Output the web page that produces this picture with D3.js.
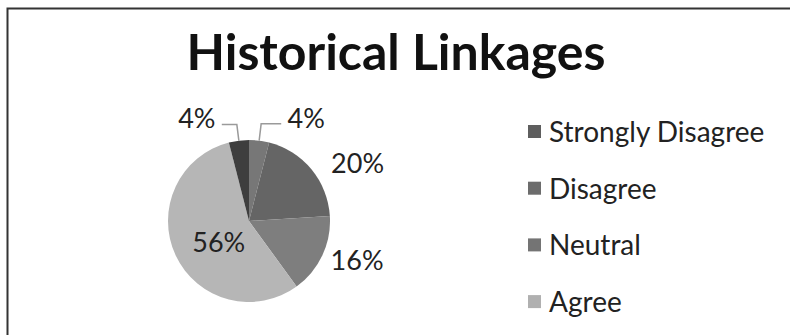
<!DOCTYPE html>
<html>
<head>
<meta charset="utf-8">
<script src="https://cdn.jsdelivr.net/npm/d3@7"></script>
<style>
  html, body { margin: 0; padding: 0; background: #fff; }
  svg { display: block; }
  text { font-family: Lato, "Open Sans", sans-serif; }
</style>
</head>
<body>
<svg id="chart" width="790" height="335"></svg>
<script>
// Survey responses for "Historical Linkages"
const categories = ["Strongly Disagree", "Disagree", "Neutral", "Agree", "Strongly Agree"];
const shares = [4, 20, 16, 56, 4];
const sliceColors = ["#777777", "#656565", "#7e7e7e", "#b6b6b6", "#3e3e3e"];
const legendColors = ["#5e5e5e", "#6c6c6c", "#747474", "#b0b0b0", "#3e3e3e"];
const title = "Historical Linkages";

// Label placement in polar terms around the pie centre (degrees clockwise from 12 o'clock, radius in px)
const labelPolar = [
  { angle: 29, radius: 118 },
  { angle: 62, radius: 123 },
  { angle: 110, radius: 115 },
  { angle: 235, radius: 37 },
  { angle: -27, radius: 115 }
];

const svg = d3.select("#chart");
const W = 790, H = 335;

// frame (top and left edges visible)
svg.append("path")
  .attr("d", `M7.5,${H} L7.5,8.5 L${W},8.5`)
  .attr("fill", "none")
  .attr("stroke", "#333")
  .attr("stroke-width", 2);

svg.append("text")
  .attr("x", 396)
  .attr("y", 70)
  .attr("text-anchor", "middle")
  .attr("font-size", 50)
  .attr("font-weight", 700)
  .attr("fill", "#111")
  .text(title);

const cx = 249, cy = 221, r = 81;
const g = svg.append("g").attr("transform", `translate(${cx},${cy})`);

const pie = d3.pie().sort(null).value(d => d);
const arcs = pie(shares);
const arc = d3.arc().innerRadius(0).outerRadius(r);

g.selectAll("path.slice")
  .data(arcs)
  .join("path")
  .attr("class", "slice")
  .attr("d", arc)
  .attr("fill", (d, i) => sliceColors[i]);

const toXY = (deg, rad) => {
  const a = deg * Math.PI / 180;
  return [Math.sin(a) * rad, -Math.cos(a) * rad];
};

// leader lines for the two thin slices
[0, 4].forEach(i => {
  const a = arcs[i];
  const mid = (a.startAngle + a.endAngle) / 2;
  const [ex, ey] = [Math.sin(mid) * r, -Math.cos(mid) * r];
  const [lx, ly] = toXY(labelPolar[i].angle, labelPolar[i].radius);
  const side = lx > 0 ? -1 : 1;
  const endX = lx + side * 25;
  const yLine = ly + 6;
  const kneeX = ex + (side > 0 ? -2 : 2);
  g.append("path")
    .attr("d", `M${endX},${yLine} L${kneeX},${yLine} L${ex},${ey}`)
    .attr("fill", "none")
    .attr("stroke", "#9a9a9a")
    .attr("stroke-width", 1.5);
});

g.selectAll("text.lbl")
  .data(arcs)
  .join("text")
  .attr("class", "lbl")
  .attr("x", (d, i) => toXY(labelPolar[i].angle, labelPolar[i].radius)[0])
  .attr("y", (d, i) => toXY(labelPolar[i].angle, labelPolar[i].radius)[1])
  .attr("dy", "0.36em")
  .attr("text-anchor", "middle")
  .attr("font-size", 27)
  .attr("fill", "#222")
  .text(d => d.data + "%");

// legend: only the rows that fit inside the chart area are shown
const legendTop = 132, rowStep = 56.7;
const shown = categories.filter((d, i) => legendTop + i * rowStep + 14 < H);
const legend = svg.append("g").attr("transform", `translate(528,${legendTop})`);
const rows = legend.selectAll("g.row")
  .data(shown)
  .join("g")
  .attr("class", "row")
  .attr("transform", (d, i) => `translate(0,${i * rowStep})`);
rows.append("rect")
  .attr("x", 0).attr("y", -7)
  .attr("width", 13).attr("height", 13)
  .attr("fill", (d, i) => legendColors[i]);
rows.append("text")
  .attr("x", 21)
  .attr("y", 0)
  .attr("dy", "0.35em")
  .attr("font-size", 28)
  .attr("fill", "#222")
  .text(d => d);
</script>
</body>
</html>
